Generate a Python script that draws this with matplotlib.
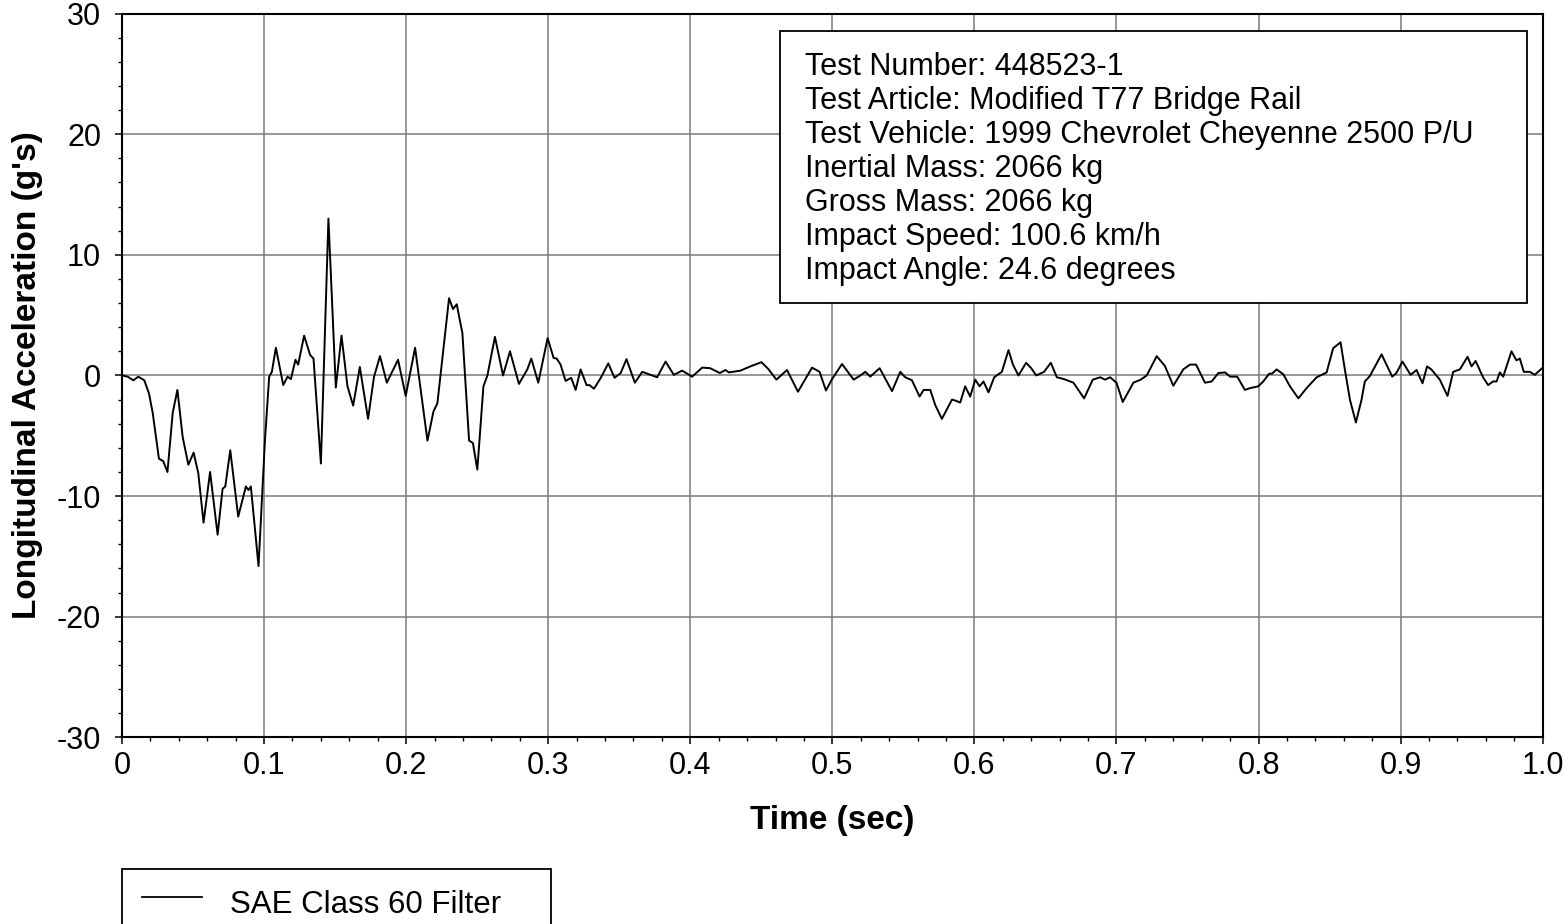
import matplotlib
matplotlib.use("Agg")
import matplotlib.pyplot as plt
from matplotlib.patches import Rectangle
from matplotlib.lines import Line2D
from matplotlib.ticker import MultipleLocator

plt.rcParams['font.family'] = ['Liberation Sans', 'DejaVu Sans']
plt.rcParams['axes.unicode_minus'] = False

# longitudinal accel trace (time in s, accel in g)
time_s = [
    0.000, 0.004, 0.008, 0.0115, 0.0157, 0.019, 0.0216, 0.026, 0.029, 0.032,
    0.0357, 0.039, 0.0427, 0.0467, 0.0504, 0.0537, 0.0574, 0.062, 0.0673, 0.0708,
    0.0727, 0.0762, 0.0818, 0.0872, 0.089, 0.0907, 0.0961, 0.1006, 0.1036, 0.1055,
    0.1083, 0.1135, 0.1165, 0.1189, 0.1221, 0.1240, 0.1282, 0.1324, 0.1348, 0.1400,
    0.1453, 0.1505, 0.1545, 0.1587, 0.1627, 0.1674, 0.1732, 0.1774, 0.1816, 0.1864,
    0.1943, 0.1997, 0.2063, 0.2150, 0.2192, 0.2220, 0.2302, 0.2330, 0.2356, 0.2396,
    0.2443, 0.2470, 0.2501, 0.2544, 0.2572, 0.2625, 0.2682, 0.2731, 0.2794, 0.2853,
    0.2881, 0.2930, 0.2996, 0.3038, 0.3060, 0.3087, 0.3122, 0.3162, 0.3193, 0.3228,
    0.3270, 0.3290, 0.3322, 0.3370, 0.3423, 0.3467, 0.3510, 0.3551, 0.3610, 0.3662,
    0.3767, 0.3826, 0.3884, 0.3943, 0.4013, 0.4084, 0.4140, 0.4208, 0.4248, 0.4272,
    0.4353, 0.4423, 0.4501, 0.4552, 0.4606, 0.4681, 0.4758, 0.4857, 0.4910, 0.4955,
    0.4998, 0.5068, 0.5150, 0.5197, 0.5232, 0.5267, 0.5333, 0.5420, 0.5478, 0.5513,
    0.5560, 0.5614, 0.5642, 0.5689, 0.5724, 0.5771, 0.5842, 0.5870, 0.5900, 0.5935,
    0.5970, 0.6006, 0.6036, 0.6064, 0.6099, 0.6139, 0.6193, 0.6240, 0.6271, 0.6310,
    0.6364, 0.6400, 0.6435, 0.6490, 0.6538, 0.6580, 0.6630, 0.6697, 0.6772, 0.6833,
    0.6885, 0.6920, 0.6955, 0.7000, 0.7044, 0.7119, 0.7170, 0.7213, 0.7283, 0.7340,
    0.7400, 0.7470, 0.7517, 0.7560, 0.7623, 0.7670, 0.7717, 0.7765, 0.7800, 0.7850,
    0.7904, 0.7940, 0.7998, 0.8033, 0.8075, 0.8095, 0.8127, 0.8174, 0.8221, 0.8280,
    0.8338, 0.8409, 0.8479, 0.8525, 0.8577, 0.8608, 0.8643, 0.8685, 0.8725, 0.8748,
    0.8783, 0.8866, 0.8900, 0.8941, 0.8970, 0.9013, 0.9070, 0.9112, 0.9154, 0.9186,
    0.9216, 0.9276, 0.9330, 0.9370, 0.9417, 0.9471, 0.9499, 0.9528, 0.9580, 0.9616,
    0.9650, 0.9675, 0.9698, 0.9722, 0.9780, 0.9815, 0.9839, 0.9867, 0.9910, 0.9944,
    1.0000,
]
accel_g = [
    0.0, -0.1, -0.4, -0.1, -0.4, -1.5, -3.1, -6.9, -7.1, -8.0,
    -3.1, -1.2, -5.1, -7.4, -6.4, -8.1, -12.2, -8.0, -13.2, -9.4,
    -9.2, -6.2, -11.7, -9.2, -9.5, -9.2, -15.8, -5.4, -0.1, 0.3,
    2.3, -0.8, -0.1, -0.3, 1.3, 0.9, 3.3, 1.7, 1.4, -7.3,
    13.0, -1.0, 3.3, -0.9, -2.5, 0.7, -3.6, -0.1, 1.6, -0.6,
    1.3, -1.7, 2.3, -5.4, -3.0, -2.3, 6.4, 5.5, 5.9, 3.5,
    -5.4, -5.6, -7.8, -0.9, 0.0, 3.2, 0.0, 2.0, -0.7, 0.5,
    1.4, -0.6, 3.1, 1.45, 1.4, 0.9, -0.45, -0.2, -1.2, 0.5,
    -0.8, -0.8, -1.1, -0.2, 1.0, -0.2, 0.2, 1.35, -0.6, 0.3,
    -0.15, 1.15, 0.05, 0.4, -0.1, 0.65, 0.6, 0.2, 0.45, 0.25,
    0.4, 0.75, 1.1, 0.5, -0.35, 0.45, -1.35, 0.65, 0.3, -1.25,
    -0.3, 0.95, -0.35, 0.0, 0.3, -0.1, 0.6, -1.3, 0.3, -0.15,
    -0.4, -1.75, -1.2, -1.2, -2.45, -3.6, -2.0, -2.1, -2.25, -0.9,
    -1.75, -0.35, -0.9, -0.5, -1.4, -0.15, 0.3, 2.1, 0.9, 0.0,
    1.05, 0.6, 0.0, 0.3, 1.05, -0.15, -0.3, -0.6, -1.9, -0.35,
    -0.15, -0.35, -0.15, -0.6, -2.2, -0.6, -0.35, 0.0, 1.6, 0.8,
    -0.85, 0.5, 0.9, 0.9, -0.6, -0.5, 0.2, 0.25, -0.1, -0.1,
    -1.2, -1.05, -0.9, -0.5, 0.15, 0.15, 0.5, 0.1, -0.9, -1.9,
    -1.05, -0.15, 0.25, 2.25, 2.75, 0.45, -2.0, -3.9, -2.0, -0.5,
    -0.05, 1.75, 0.9, -0.1, 0.2, 1.15, 0.05, 0.45, -0.65, 0.75,
    0.5, -0.35, -1.7, 0.3, 0.5, 1.55, 0.75, 1.2, -0.15, -0.8,
    -0.5, -0.5, 0.25, -0.1, 2.0, 1.25, 1.4, 0.3, 0.3, 0.05,
    0.65,
]

x_ticks = [0, 0.1, 0.2, 0.3, 0.4, 0.5, 0.6, 0.7, 0.8, 0.9, 1.0]
x_tick_labels = ["0", "0.1", "0.2", "0.3", "0.4", "0.5", "0.6", "0.7", "0.8", "0.9", "1.0"]
y_ticks = [-30, -20, -10, 0, 10, 20, 30]

info_lines = [
    "Test Number: 448523-1",
    "Test Article: Modified T77 Bridge Rail",
    "Test Vehicle: 1999 Chevrolet Cheyenne 2500 P/U",
    "Inertial Mass: 2066 kg",
    "Gross Mass: 2066 kg",
    "Impact Speed: 100.6 km/h",
    "Impact Angle: 24.6 degrees",
]
legend_label = "SAE Class 60 Filter"

W, H = 1564, 924
fig = plt.figure(figsize=(W / 100, H / 100), dpi=100)
ax = fig.add_axes([122 / W, 1 - 737.4 / H, (1542.7 - 122) / W, (737.4 - 13.5) / H])

ax.plot(time_s, accel_g, color='black', lw=1.4, zorder=3)

ax.set_xlim(0, 1.0); ax.set_ylim(-30, 30)
ax.set_xticks(x_ticks); ax.set_xticklabels(x_tick_labels)
ax.set_yticks(y_ticks)
ax.xaxis.set_minor_locator(MultipleLocator(0.02))
ax.yaxis.set_minor_locator(MultipleLocator(2))
ax.grid(which='major', color='#7a7a7a', lw=1.1, zorder=1)
ax.tick_params(which='major', direction='out', length=5, width=1.1, labelsize=22, color='black')
ax.tick_params(axis='y', which='major', pad=10)
ax.tick_params(axis='x', which='major', pad=5)
ax.tick_params(which='minor', direction='out', length=3, width=1.0)
for s in ax.spines.values():
    s.set_linewidth(1.5)

ax.set_xlabel("Time (sec)", fontsize=24, fontweight='bold', labelpad=17)
ax.set_ylabel("Longitudinal Acceleration (g's)", fontsize=24, fontweight='bold', labelpad=10)

# info box
fig.patches.append(Rectangle((780 / W, 1 - 302.7 / H), 747 / W, 272 / H, transform=fig.transFigure,
                             facecolor='white', edgecolor='black', lw=1.3, zorder=5))
for i, line in enumerate(info_lines):
    fig.text(805 / W, 1 - (75 + 34 * i) / H, line, fontsize=22, va='baseline', ha='left', zorder=6)

# legend box at the bottom, cut off by the figure edge
fig.patches.append(Rectangle((122 / W, -0.05), (551 - 122) / W, 0.05 + 1 - 869 / H, transform=fig.transFigure,
                             facecolor='white', edgecolor='black', lw=1.3))
fig.lines.append(Line2D([142 / W, 202 / W], [1 - 897 / H, 1 - 897 / H], transform=fig.transFigure,
                        color='black', lw=1.3))
fig.text(230 / W, 1 - 913 / H, legend_label, fontsize=22.5, va='baseline', ha='left')

fig.savefig("out.png", dpi=100)
